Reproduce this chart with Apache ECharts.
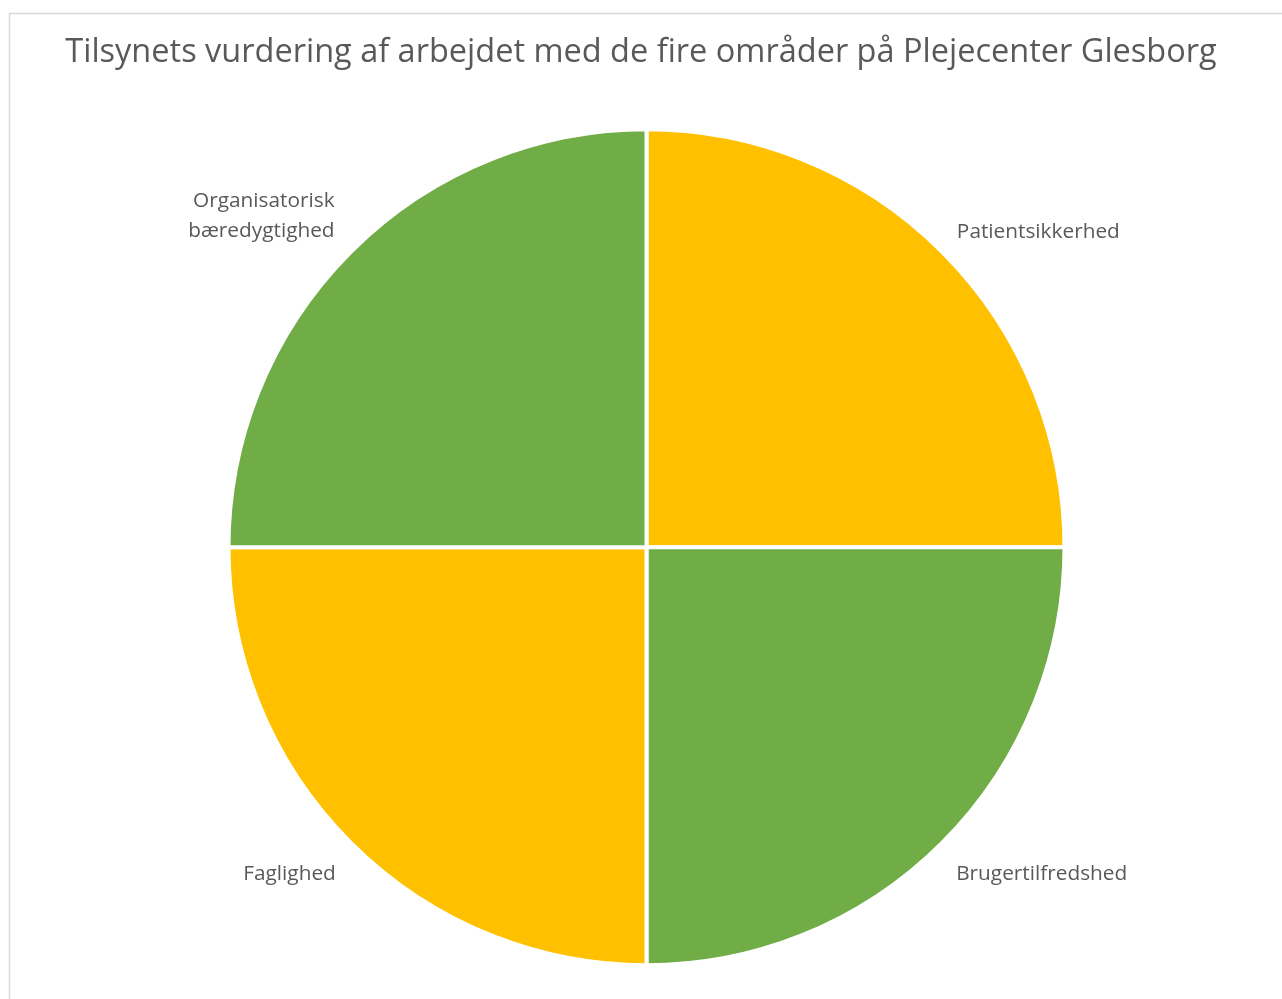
<!DOCTYPE html>
<html>
<head>
    <meta charset="utf-8">
    <title>Tilsynets vurdering</title>
    <script src="https://cdn.jsdelivr.net/npm/echarts@6/dist/echarts.min.js"></script>
    <style>
        html, body { margin: 0; padding: 0; background: #fff; }
        #main { width: 1282px; height: 999px; }
    </style>
</head>
<body>
<div id="main"></div>
<script type="text/javascript">
    // data
    var categories = ['Patientsikkerhed', 'Brugertilfredshed', 'Faglighed', 'Organisatorisk\nbæredygtighed'];
    var values = [1, 1, 1, 1];
    var sliceColors = ['#FFC000', '#70AD47', '#FFC000', '#70AD47'];

    // label tweaks per slice (line length out from the rim, offset from line end)
    var labelLen = [28, 44, 44, 50];
    var labelDist = [-5, -17, -16, -19];

    var pieData = categories.map(function (name, i) {
        return {
            name: name,
            value: values[i],
            itemStyle: { color: sliceColors[i] },
            labelLine: { length: labelLen[i] },
            label: { distanceToLabelLine: labelDist[i] }
        };
    });

    var myChart = echarts.init(document.getElementById('main'));

    var option = {
        animation: false,
        title: {
            text: 'Tilsynets vurdering af arbejdet med de fire områder på Plejecenter Glesborg',
            left: 'center',
            top: 31,
            textStyle: {
                fontFamily: 'Open Sans',
                fontSize: 32.5,
                fontWeight: 'normal',
                color: '#595959'
            }
        },
        graphic: [{
            type: 'rect',
            shape: { x: 9.5, y: 13.5, width: 1400, height: 1100 },
            style: { fill: 'none', stroke: '#d9d9d9', lineWidth: 1.5 },
            silent: true
        }],
        series: [{
            type: 'pie',
            center: [646.5, 547.3],
            radius: 418,
            startAngle: 90,
            clockwise: true,
            itemStyle: { borderColor: '#ffffff', borderWidth: 4 },
            label: {
                show: true,
                position: 'outside',
                fontFamily: 'Open Sans',
                fontSize: 20.8,
                lineHeight: 30,
                color: '#595959'
            },
            labelLine: { show: false, length2: 0 },
            data: pieData
        }]
    };

    myChart.setOption(option);
</script>
</body>
</html>
